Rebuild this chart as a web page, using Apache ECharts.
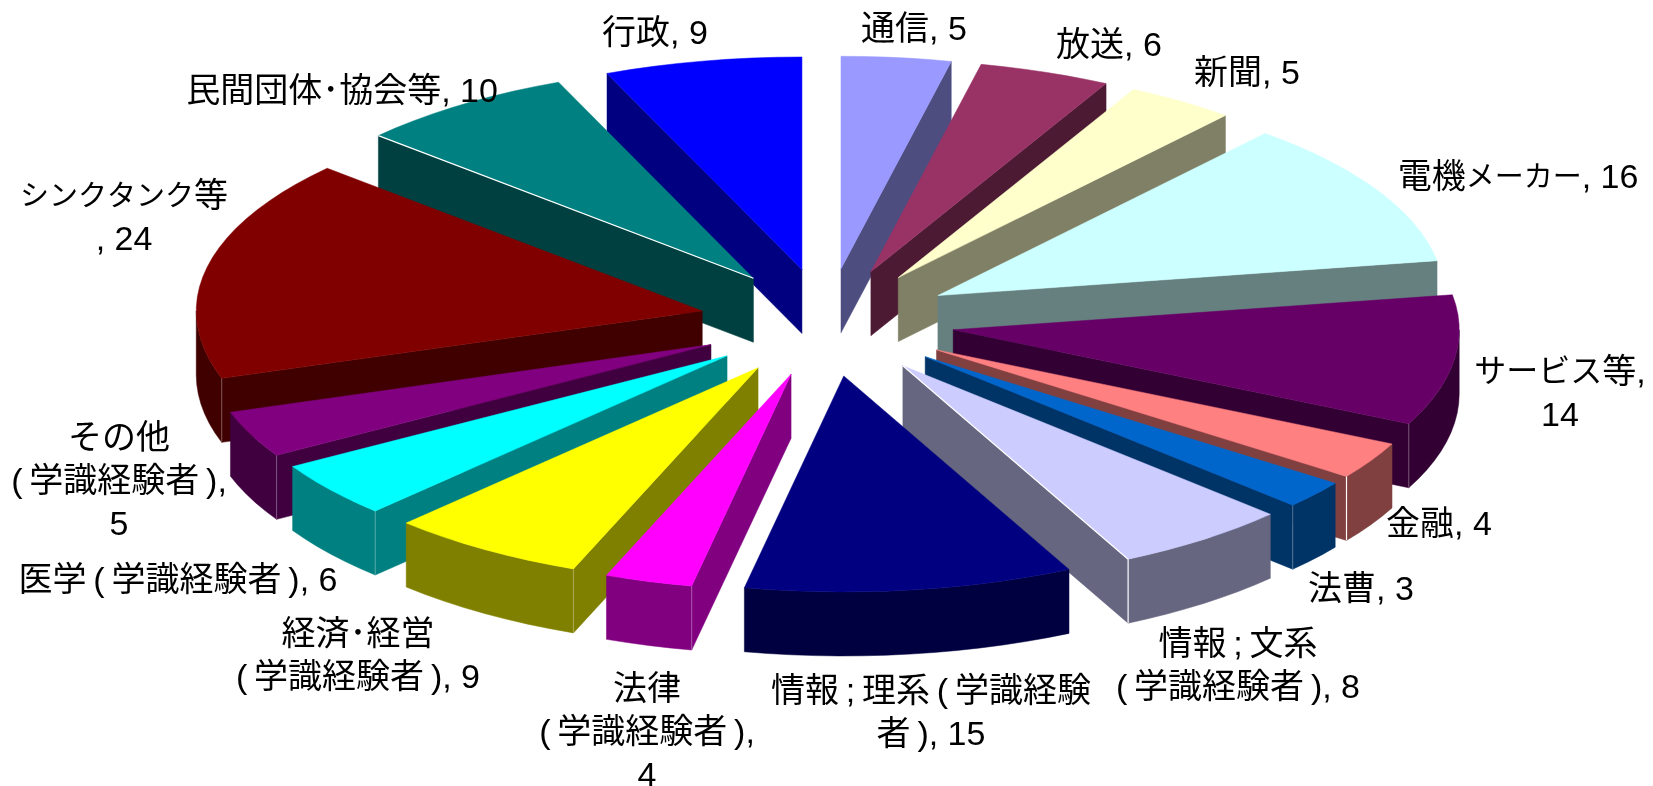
<!DOCTYPE html>
<html><head><meta charset="utf-8">
<style>html,body{margin:0;padding:0;background:#fff}#c{width:1653px;height:786px}</style>
<script src="https://cdn.jsdelivr.net/npm/echarts@6/dist/echarts.min.js"></script>
</head><body><div id="c"></div>
<script>
// ---- data ----
const categories = ['通信','放送','新聞','電機メーカー','サービス等','金融','法曹','情報;文系(学識経験者)','情報;理系(学識経験者)','法律(学識経験者)','経済・経営(学識経験者)','医学(学識経験者)','その他(学識経験者)','シンクタンク等','民間団体・協会等','行政'];
const values = [5,6,5,16,14,4,3,8,15,4,9,6,5,24,10,9];
const labelTexts = [
 '通信, 5','放送, 6','新聞, 5','電機メーカー, 16','サービス等,\n14','金融, 4','法曹, 3',
 '情報\u2009;\u2009文系\n(\u2009学識経験者\u2009), 8','情報\u2009;\u2009理系\u2009(\u2009学識経験\n者\u2009), 15','法律\n(\u2009学識経験者\u2009),\n4',
 '経済･経営\n(\u2009学識経験者\u2009), 9','医学\u2009(\u2009学識経験者\u2009), 6','その他\n(\u2009学識経験者\u2009),\n5',
 'シンクタンク等\n, 24','民間団体･協会等, 10','行政, 9'];
const colors = ['#9999FF','#993366','#FFFFCC','#CCFFFF','#660066','#FF8080','#0066CC','#CCCCFF','#000080','#FF00FF','#FFFF00','#00FFFF','#800080','#800000','#008080','#0000FF'];
// ---- layout ----
const labelPos = [[914,31],[1109,47],[1247,75],[1518,179],[1560,395],[1439,526],[1361,591],[1238,667],[931,714],[647,734],[358,657],[178,582],[119,483],[124,219],[342,93],[655,35]];
const kanaSizes = {3:29,4:32,13:29};
const whiteCorner = [5,7], whiteEdge = [7,14];
const cx = 827, cy = 322, ra = 506, rbNear = 216, rbFar = 212.5, depth = 64, explode = 0.252;
const total = values.reduce((s,v)=>s+v,0);
const starts = []; values.reduce((s,v,i)=>{starts[i]=s;return s+v;},0);
const rad = v => v/total*2*Math.PI;
function darken(hex){const n=parseInt(hex.slice(1),16);const f=c=>Math.round(c/2).toString(16).padStart(2,'0');return '#'+f(n>>16&255)+f(n>>8&255)+f(n&255);}
function proj(x,y,z){return [cx+ra*x, cy-(y>0?rbFar:rbNear)*y+depth*z];}
// draw order: far slices first
const order = values.map((v,i)=>i).sort((p,q)=>Math.cos(rad(starts[q]+values[q]/2))-Math.cos(rad(starts[p]+values[p]/2)));
const rank = []; order.forEach((i,r)=>rank[i]=r);

function renderItem(params, api){
  const i = params.dataIndex, val = api.value(0);
  const a0 = rad(starts[i]), a1 = a0 + rad(val), mid = (a0+a1)/2;
  const ox = explode*Math.sin(mid), oy = explode*Math.cos(mid);
  const P = (r,a,z)=>proj(ox+r*Math.sin(a), oy+r*Math.cos(a), z);
  const top = colors[i], side = darken(top);
  const base = (rank[i]+1)*10;
  const kids = [];
  const poly = (pts,fill,z)=>kids.push({type:'polygon',shape:{points:pts},style:{fill,stroke:fill,lineWidth:0.5},z2:base+z,silent:true});
  const line = (p,q,op,z)=>kids.push({type:'line',shape:{x1:p[0],y1:p[1],x2:q[0],y2:q[1]},style:{stroke:'#fff',lineWidth:1.2,opacity:op},z2:base+z,silent:true});
  // radial walls visible when their outward normal faces the viewer
  const apexT=P(0,0,0), apexB=P(0,0,1);
  const t0=P(1,a0,0), b0=P(1,a0,1), t1=P(1,a1,0), b1=P(1,a1,1);
  const wall0 = Math.sin(a0) < -1e-6, wall1 = Math.sin(a1) > 1e-6;
  if (wall0) poly([apexT,t0,b0,apexB],side,1);
  if (wall1) poly([apexT,t1,b1,apexB],side,1);
  // outer rim: only the part on the near side
  const lo=Math.max(a0,Math.PI/2), hi=Math.min(a1,Math.PI*1.5);
  if (hi>lo){
    const n=Math.max(2,Math.ceil((hi-lo)/0.05)), up=[], dn=[];
    for(let k=0;k<=n;k++){const a=lo+(hi-lo)*k/n; up.push(P(1,a,0)); dn.unshift(P(1,a,1));}
    poly(up.concat(dn),side,2);
  }
  // top face
  const n=Math.max(2,Math.ceil((a1-a0)/0.05)), pts=[apexT];
  for(let k=0;k<=n;k++) pts.push(P(1,a0+(a1-a0)*k/n,0));
  poly(pts,top,3);
  // thin highlights on wall/rim corners and selected top edges
  const op = whiteCorner.includes(i) ? 1 : 0.25;
  if (wall1 && a1>Math.PI/2) line(t1,b1,op,4);
  if (wall0 && a0<Math.PI*1.5) line(t0,b0,op,4);
  if (whiteEdge.includes(i)) { if (wall1) line(apexT,t1,1,4); if (wall0) line(apexT,t0,1,4); }
  const font = '"Liberation Sans","Noto Sans CJK JP",sans-serif';
  const ks = kanaSizes[i];
  kids.push({type:'text',silent:true,z2:1000,style:{
    x:labelPos[i][0],y:labelPos[i][1],
    text: ks ? labelTexts[i].replace(/[ァ-ヶー]+/g,m=>'{k|'+m+'}') : labelTexts[i],
    rich: ks ? {k:{fontSize:ks,lineHeight:43,fontFamily:font,fill:'#000',verticalAlign:'middle'}} : undefined,
    align:'center',verticalAlign:'middle',
    fill:'#000',fontSize:34,lineHeight:43,fontFamily:font}});
  return {type:'group',children:kids};
}
const chart = echarts.init(document.getElementById('c'),null,{renderer:'canvas'});
chart.setOption({
  animation:false,
  backgroundColor:'#fff',
  series:[{type:'custom',coordinateSystem:'none',renderItem,
    data:categories.map((name,i)=>({name,value:[values[i]]}))}]
});
</script></body></html>
